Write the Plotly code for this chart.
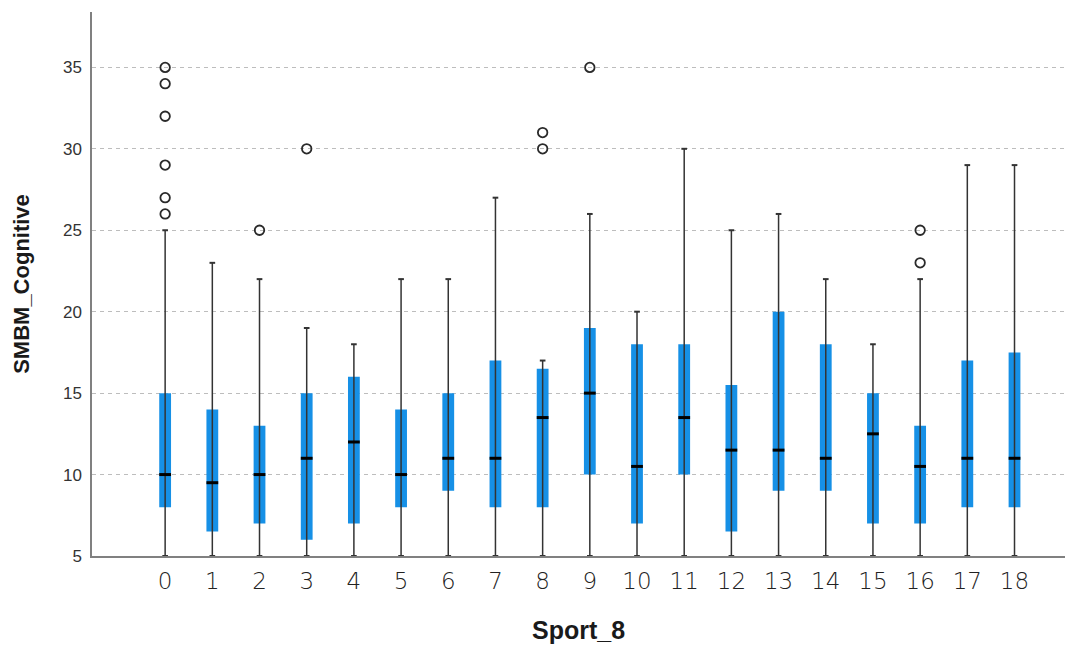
import plotly.graph_objects as go

# Five-number summaries of SMBM_Cognitive for each Sport_8 group
sports = list(range(19))
whisker_low = [5] * 19
q1 = [8, 6.5, 7, 6, 7, 8, 9, 8, 8, 10, 7, 10, 6.5, 9, 9, 7, 7, 8, 8]
median = [10, 9.5, 10, 11, 12, 10, 11, 11, 13.5, 15, 10.5, 13.5, 11.5, 11.5, 11, 12.5, 10.5, 11, 11]
q3 = [15, 14, 13, 15, 16, 14, 15, 17, 16.5, 19, 18, 18, 15.5, 20, 18, 15, 13, 17, 17.5]
whisker_high = [25, 23, 22, 19, 18, 22, 22, 27, 17, 26, 20, 30, 25, 26, 22, 18, 22, 29, 29]

# Outlying observations (group, value)
outlier_group = [0, 0, 0, 0, 0, 0, 2, 3, 8, 8, 9, 16, 16]
outlier_value = [26, 27, 29, 32, 34, 35, 25, 30, 30, 31, 35, 23, 25]

BOX_W = 0.25
CAP_W = 0.12
BLUE = "#1690E6"
INK = "#333333"

fig = go.Figure()

# whiskers
wx, wy = [], []
for s, lo, hi in zip(sports, whisker_low, whisker_high):
    wx += [s, s, None]
    wy += [lo, hi, None]
fig.add_trace(go.Scatter(x=wx, y=wy, mode="lines",
                         line=dict(color=INK, width=1.5), hoverinfo="skip"))

# whisker caps
cx, cy = [], []
for s, lo, hi in zip(sports, whisker_low, whisker_high):
    for v in (lo, hi):
        cx += [s - CAP_W / 2, s + CAP_W / 2, None]
        cy += [v, v, None]
fig.add_trace(go.Scatter(x=cx, y=cy, mode="lines",
                         line=dict(color=INK, width=2), hoverinfo="skip"))

# interquartile boxes
fig.add_trace(go.Bar(x=sports, y=[b - a for a, b in zip(q1, q3)], base=q1,
                     width=BOX_W, marker=dict(color=BLUE, line=dict(width=0))))

# medians
mx, my = [], []
for s, m in zip(sports, median):
    mx += [s - BOX_W / 2, s + BOX_W / 2, None]
    my += [m, m, None]
fig.add_trace(go.Scatter(x=mx, y=my, mode="lines",
                         line=dict(color="black", width=3), hoverinfo="skip"))

# outliers
fig.add_trace(go.Scatter(x=outlier_group, y=outlier_value, mode="markers",
                         marker=dict(symbol="circle-open", size=9.5,
                                     color="#2a2a2a", line=dict(width=1.8))))

fig.update_layout(
    width=1081, height=646,
    margin=dict(l=92, r=16, t=12, b=90),
    paper_bgcolor="white", plot_bgcolor="white",
    showlegend=False,
    font=dict(family="Liberation Sans, Arial, sans-serif", color="#333333"),
    xaxis=dict(
        range=[-1.55, 19.07], automargin=False,
        tickmode="array", tickvals=sports, ticktext=[str(s) for s in sports],
        tickfont=dict(size=23, color="#222222", family="DejaVu Sans", weight=200),
        ticks="", ticklabelstandoff=4,
        showgrid=False, zeroline=False,
        showline=True, linecolor="#808080", linewidth=1.5,
        title=dict(text="<b>Sport_8</b>", font=dict(size=25, color="#1a1a1a"),
                   standoff=28),
    ),
    yaxis=dict(
        range=[5, 38.4], automargin=False,
        tickmode="array", tickvals=[5, 10, 15, 20, 25, 30, 35],
        tickfont=dict(size=17, color="#333333"),
        ticks="", ticklabelstandoff=5,
        showgrid=True, gridcolor="#bdbdbd", griddash="4px,4px", gridwidth=1,
        zeroline=False,
        showline=True, linecolor="#808080", linewidth=1.5,
        title=dict(text="<b>SMBM_Cognitive</b>", font=dict(size=22, color="#1a1a1a"),
                   standoff=27),
    ),
)

fig.write_html("out.html")
